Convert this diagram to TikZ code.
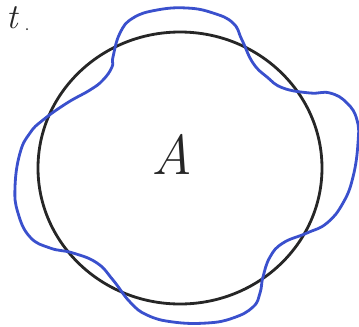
\documentclass[tikz,border=0pt]{standalone}
\usepackage{tikz}
\usetikzlibrary{positioning}
\definecolor{penblue}{RGB}{58,80,205}
\definecolor{penblack}{RGB}{38,38,38}

\begin{document}
\begin{tikzpicture}[x=0.03cm, y=-0.03cm, line width=2.4pt, line join=round,
    hand/.style={inner sep=0pt, text=penblack, font=\itshape}]
  \useasboundingbox (0,0) rectangle (359,326);
  % the disc A
  \draw[penblack] (180,168) ellipse [x radius=142, y radius=136];
  % perturbed boundary
  \draw[penblue] plot[smooth cycle, tension=0.75] coordinates {
    (113,57) (120,33) (133,18) (157,10) (187,8) (213,13) (233,23) (242,40)
    (253,63) (267,77) (283,88) (310,93) (330,93) (347,103) (357,120)
    (358,143) (353,177) (343,203) (327,223) (307,233) (283,243) (270,257)
    (263,277) (260,293) (253,307) (233,318) (207,323) (173,322) (147,315)
    (130,302) (113,280) (97,263) (73,253) (50,248) (30,237) (18,213)
    (15,187) (20,153) (30,133) (43,120) (67,103) (90,90) (103,80) (112,67)};
  % labels
  \node[hand, font=\fontsize{48}{48}\selectfont\itshape] (A) at (172,154) {A};
  \node[hand, anchor=south west, font=\fontsize{30}{30}\selectfont\itshape] (t) at (5,30) {t};
  \fill[penblack] (27,29) circle (1);
\end{tikzpicture}
\end{document}
